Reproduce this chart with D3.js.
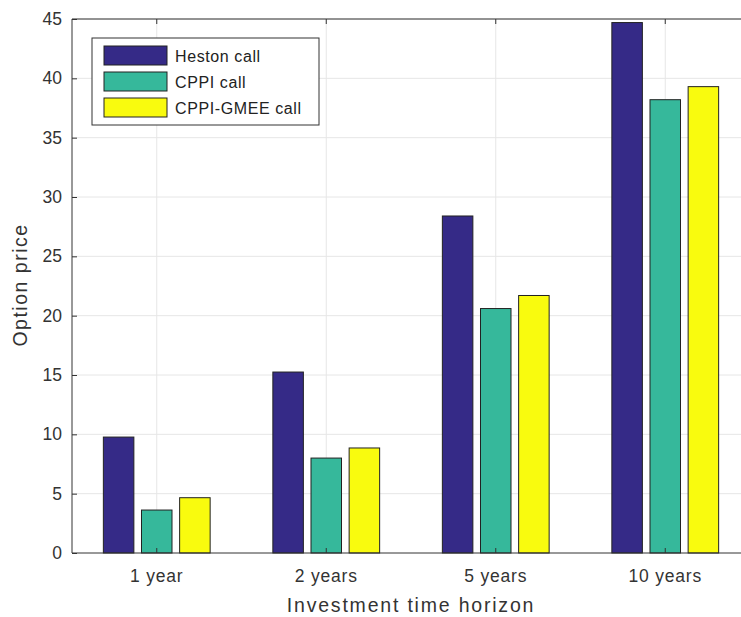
<!DOCTYPE html>
<html>
<head>
<meta charset="utf-8">
<script src="https://cdn.jsdelivr.net/npm/d3@7"></script>
<style>
body { margin: 0; background: #fff; }
text { font-family: "Liberation Sans", Arial, sans-serif; }
</style>
</head>
<body>
<script>
var categories = ["1 year", "2 years", "5 years", "10 years"];
var seriesNames = ["Heston call", "CPPI call", "CPPI-GMEE call"];
var heston = [9.77, 15.25, 28.4, 44.7];
var cppi = [3.62, 8.0, 20.6, 38.2];
var gmee = [4.66, 8.85, 21.7, 39.3];
var yTicks = [0, 5, 10, 15, 20, 25, 30, 35, 40, 45];
var colors = ["#352a87", "#36b89b", "#f9fb0e"];

var series = [heston, cppi, gmee];

var margin = {top: 19, right: -9, bottom: 64, left: 72},
  width = 741 - margin.left - margin.right,
  height = 617 - margin.top - margin.bottom;

var svg = d3.select("body").append("svg")
  .attr("width", 741)
  .attr("height", 617)
  .append("g")
  .attr("transform", "translate(" + margin.left + "," + margin.top + ")");

var x = d3.scaleBand().domain(categories).range([0, width]).padding(0);
var y = d3.scaleLinear().domain([0, 45]).range([height, 0]);

// grid
svg.append("g").selectAll("line.gy")
  .data(yTicks.slice(1))
  .enter().append("line")
  .attr("x1", 0).attr("x2", width)
  .attr("y1", function (d) { return y(d); })
  .attr("y2", function (d) { return y(d); })
  .style("stroke", "#e6e6e6").style("stroke-width", 1);

svg.append("g").selectAll("line.gx")
  .data(categories)
  .enter().append("line")
  .attr("x1", function (d) { return x(d) + x.bandwidth() / 2; })
  .attr("x2", function (d) { return x(d) + x.bandwidth() / 2; })
  .attr("y1", 0).attr("y2", height)
  .style("stroke", "#e6e6e6").style("stroke-width", 1);

// bars
var step = x.bandwidth() * 0.225;
var bw = x.bandwidth() * 0.18;
series.forEach(function (vals, i) {
  svg.append("g").selectAll("rect")
    .data(vals)
    .enter().append("rect")
    .attr("x", function (d, j) { return x(categories[j]) + x.bandwidth() / 2 + (i - 1) * step - bw / 2; })
    .attr("y", function (d) { return y(d); })
    .attr("width", bw)
    .attr("height", function (d) { return height - y(d); })
    .style("fill", colors[i])
    .style("stroke", "#222")
    .style("stroke-width", 1);
});

// axes
var yAxis = d3.axisLeft(y).tickValues(yTicks).tickSize(-5).tickPadding(10);
var gy = svg.append("g").call(yAxis);
gy.select(".domain").remove();
gy.selectAll("line").style("stroke", "#333");
gy.selectAll("text").style("font-size", "17.5px").style("fill", "#333");

var xAxis = d3.axisBottom(x).tickSize(-5).tickPadding(17);
var gx = svg.append("g").attr("transform", "translate(0," + height + ")").call(xAxis);
gx.select(".domain").remove();
gx.selectAll("line").style("stroke", "#333");
gx.selectAll("text").style("font-size", "17.5px").style("letter-spacing", "0.8px").style("fill", "#333");

var gxt = svg.append("g").call(d3.axisTop(x).tickSize(-5).tickFormat(""));
gxt.select(".domain").remove();
gxt.selectAll("line").style("stroke", "#333");

// box
svg.append("line").attr("x1", 0).attr("x2", width).attr("y1", 0).attr("y2", 0).style("stroke", "#333");
svg.append("line").attr("x1", 0).attr("x2", width).attr("y1", height).attr("y2", height).style("stroke", "#333");
svg.append("line").attr("x1", 0).attr("x2", 0).attr("y1", 0).attr("y2", height).style("stroke", "#333");

// axis labels
svg.append("text")
  .attr("x", 339).attr("y", height + 59)
  .attr("text-anchor", "middle")
  .style("font-size", "19.5px").style("letter-spacing", "1.8px").style("fill", "#333")
  .text("Investment time horizon");

svg.append("text")
  .attr("transform", "translate(-45," + (285 - margin.top) + ") rotate(-90)")
  .attr("text-anchor", "middle")
  .style("font-size", "19.5px").style("letter-spacing", "1.5px").style("fill", "#333")
  .text("Option price");

// legend
var lg = svg.append("g").attr("transform", "translate(20,19)");
lg.append("rect").attr("x", 0).attr("y", 0).attr("width", 227).attr("height", 87)
  .style("fill", "#fff").style("stroke", "#333");
seriesNames.forEach(function (n, i) {
  lg.append("rect").attr("x", 12).attr("y", 8 + i * 26).attr("width", 63).attr("height", 19)
    .style("fill", colors[i]).style("stroke", "#222");
  lg.append("text").attr("x", 83).attr("y", 24 + i * 26)
    .style("font-size", "16px").style("letter-spacing", "0.6px").style("fill", "#222").text(n);
});
</script>
</body>
</html>
